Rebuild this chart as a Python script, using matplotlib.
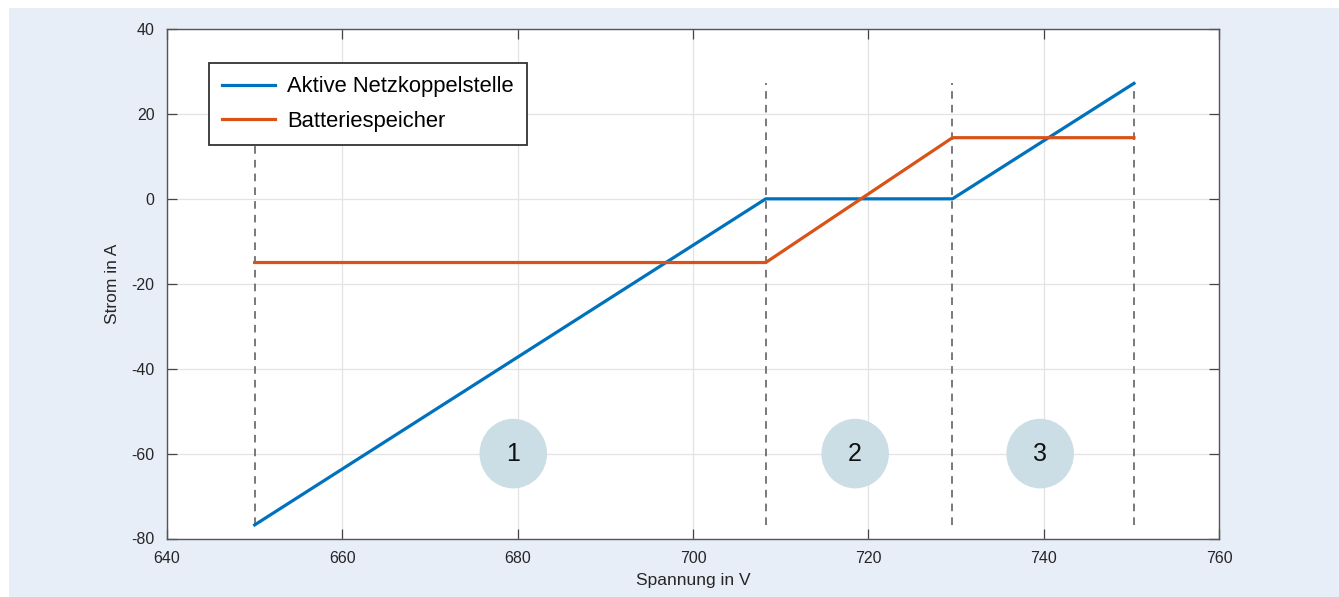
import matplotlib
matplotlib.use("Agg")
import matplotlib.pyplot as plt
from matplotlib.patches import Ellipse, Rectangle

# ---- data ----
voltage = [650.0, 708.3, 729.6, 750.3]
current_netz = [-76.8, 0.0, 0.0, 27.2]
current_batt = [-15.0, -15.0, 14.4, 14.4]
boundaries = [650.0, 708.3, 729.6, 750.3]
boundary_ymin = -76.8
boundary_ymax = 27.2
region_x = [679.5, 718.5, 739.6]
region_y = -60
region_labels = ["1", "2", "3"]
series_names = ["Aktive Netzkoppelstelle", "Batteriespeicher"]
x_ticks = [640, 660, 680, 700, 720, 740, 760]
y_ticks = [-80, -60, -40, -20, 0, 20, 40]

plt.rcParams['font.family'] = ['Liberation Sans', 'DejaVu Sans']
plt.rcParams['axes.unicode_minus'] = False
txt = '#262626'

fig = plt.figure(figsize=(13.39, 5.97), dpi=100)
fig.patch.set_facecolor('white')
fig.add_artist(Rectangle((9/1339, 0), 1, 1 - 8/597, transform=fig.transFigure,
                         facecolor='#e8eef8', edgecolor='none', zorder=-10))

ax = fig.add_axes([167/1339, 1 - 538.5/597, (1219-167)/1339, (538.5-29)/597])
ax.set_facecolor('white')

ax.plot(voltage, current_netz, color='#0072BD', lw=2.3, label=series_names[0], zorder=4)
ax.plot(voltage, current_batt, color='#D95319', lw=2.3, label=series_names[1], zorder=4)

for xb in boundaries:
    ax.plot([xb, xb], [boundary_ymin, boundary_ymax], color='#555555', lw=1.1,
            dashes=(5, 4), zorder=3)

for xr, lab in zip(region_x, region_labels):
    ax.add_patch(Ellipse((xr, region_y), width=7.7, height=16.4,
                         facecolor='#cbdde5', edgecolor='none', zorder=5))
    ax.text(xr, region_y, lab, ha='center', va='center', fontsize=18, color='#111111', zorder=6)

ax.set_xlim(640, 760)
ax.set_ylim(-80, 40)
ax.set_xticks(x_ticks)
ax.set_yticks(y_ticks)
ax.grid(True, color='#e3e3e3', lw=0.9, zorder=0)
ax.set_axisbelow(True)
ax.tick_params(direction='in', length=7, width=0.9, colors='#444444', labelcolor=txt,
               labelsize=11.5, top=True, right=True, pad=9)
for s in ax.spines.values():
    s.set_color('#555555')
    s.set_linewidth(1.0)

ax.set_xlabel('Spannung in V', fontsize=12.5, color=txt, labelpad=5)
ax.set_ylabel('Strom in A', fontsize=12.5, color=txt)
ax.yaxis.set_label_coords(-0.0445, 0.5)

leg = ax.legend(loc='upper left', bbox_to_anchor=(0.04, 0.933), borderaxespad=0,
                fontsize=15.8, frameon=True, fancybox=False, framealpha=1,
                edgecolor='#333333', handlelength=2.4, handletextpad=0.55,
                borderpad=0.6, labelspacing=0.62)
leg.get_frame().set_linewidth(1.3)
leg.set_zorder(10)

fig.savefig('out.png', dpi=100)
